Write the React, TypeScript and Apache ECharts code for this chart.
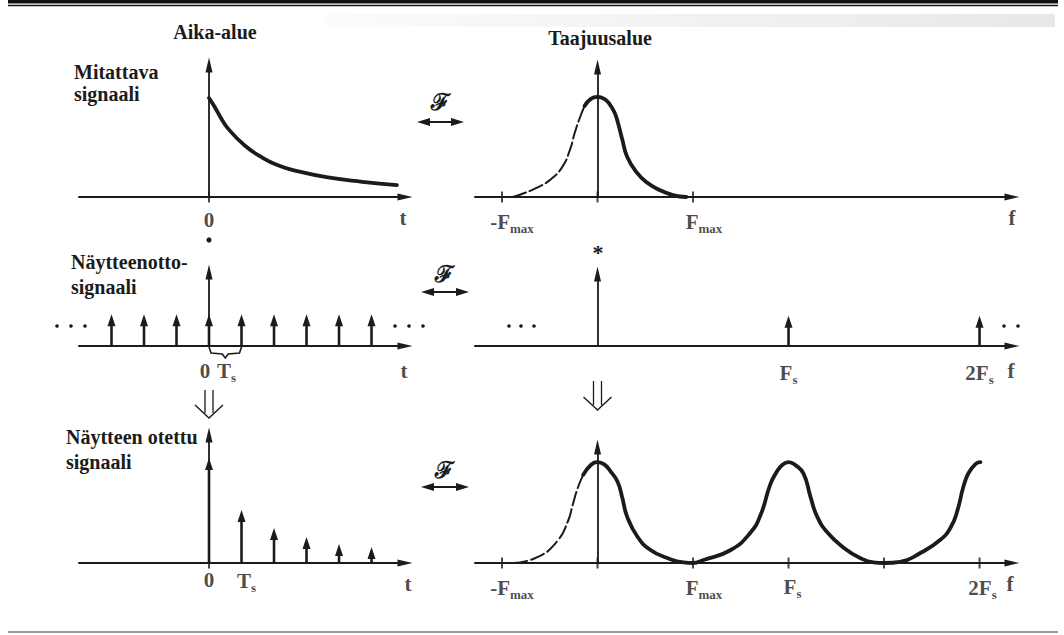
import React, { useEffect, useRef } from 'react';
import * as echarts from 'echarts';

const INK = '#1b1b1b';
const SERIF = 'Liberation Serif';

// ---------------- data ----------------
// time unit = T_s ; frequency unit = F_max (so F_s = 2)
const decayT = [0, 0.18, 0.34, 0.58, 1.1, 1.63, 2.12, 2.65, 3.66, 4.71, 5.78];
const decayA = [0.75, 0.68, 0.61, 0.52, 0.39, 0.3, 0.24, 0.2, 0.148, 0.115, 0.09];

const specF = [-0.89, -0.82, -0.64, -0.5, -0.37, -0.29, -0.24, -0.19, -0.136, -0.07, 0, 0.07, 0.126, 0.178, 0.21, 0.26, 0.31, 0.41, 0.51, 0.65, 0.79, 0.93];
const specA = [0, 0.015, 0.07, 0.13, 0.23, 0.36, 0.49, 0.6, 0.7, 0.755, 0.77, 0.755, 0.715, 0.65, 0.58, 0.44, 0.31, 0.19, 0.115, 0.054, 0.015, 0];

const combT = [-3, -2, -1, 0, 1, 2, 3, 4, 5];
const combA = [0.43, 0.43, 0.43, 0.43, 0.43, 0.43, 0.43, 0.43, 0.43];
const combF = [2, 4];
const combFA = [0.42, 0.42];

const sampT = [0, 1, 2, 3, 4, 5];
const sampA = [0.82, 0.414, 0.273, 0.203, 0.148, 0.125];

const aliasF = [-0.88, -0.63, -0.42, -0.31, -0.26, -0.21, -0.15, -0.07, 0, 0.07, 0.136, 0.21, 0.26, 0.31, 0.42, 0.555, 0.73, 0.9, 1.0, 1.11, 1.39, 1.6, 1.71, 1.81, 1.88, 1.94, 2.0, 2.07, 2.157, 2.23, 2.3, 2.41, 2.58, 2.75, 2.89, 3.0, 3.17, 3.38, 3.59, 3.7, 3.77, 3.83, 3.885, 3.96, 4.01];
const aliasA = [0, 0.05, 0.19, 0.36, 0.5, 0.64, 0.76, 0.845, 0.87, 0.85, 0.79, 0.7, 0.56, 0.4, 0.224, 0.112, 0.043, 0.005, 0, 0.026, 0.11, 0.26, 0.42, 0.68, 0.79, 0.85, 0.87, 0.845, 0.77, 0.57, 0.4, 0.26, 0.13, 0.043, 0.005, 0, 0.01, 0.086, 0.2, 0.31, 0.457, 0.655, 0.776, 0.855, 0.87];

const braceSpan = [0, 1];

const T_MIN = -4, T_MAX = 6.03;
const F_MIN = -1.283, F_MAX = 4.34;

// tick labels ("_" marks a subscript)
const r1TimeTicks = [0, T_MAX];
const r1TimeLabels = ['0', 't'];
const r1FreqTicks = [-1, 1, F_MAX];
const r1FreqLabels = ['-F_max', 'F_max', 'f'];
const r2TimeTicks = [0, 1, T_MAX];
const r2TimeLabels = ['0', 'T_s', 't'];
const r2FreqTicks = [2, 4, F_MAX];
const r2FreqLabels = ['F_s', '2F_s', 'f'];
const r3TimeTicks = [0, 1, T_MAX];
const r3TimeLabels = ['0', 'T_s', 't'];
const r3FreqTicks = [-1, 1, 2, 4, F_MAX];
const r3FreqLabels = ['-F_max', 'F_max', 'F_s', '2F_s', 'f'];

// small tick marks crossing the axes
const r1TimeMarks = [0];
const r1FreqMarks = [-1, 0, 1];
const r3TimeMarks = [0];
const r3FreqMarks = [-1, 0, 1, 2, 3, 4];

// ---------------- layout / style ----------------
const LEFT_X = 79, LEFT_W = 326, RIGHT_X = 475, RIGHT_W = 537;
const GRIDS = [
  { left: LEFT_X, top: 65, width: LEFT_W, height: 132 },
  { left: RIGHT_X, top: 67, width: RIGHT_W, height: 130 },
  { left: LEFT_X, top: 272, width: LEFT_W, height: 74 },
  { left: RIGHT_X, top: 274, width: RIGHT_W, height: 72 },
  { left: LEFT_X, top: 435, width: LEFT_W, height: 128 },
  { left: RIGHT_X, top: 447, width: RIGHT_W, height: 116 },
];
const OFFS = [
  [[0, 9], [-2, 7]],
  [[10, 11], [11, 11], [0, 7]],
  [[-4, 11], [-15, 11], [-1, 11]],
  [[0, 13], [0, 13], [-1, 11]],
  [[0, 3], [5, 4], [3, 7]],
  [[10, 11], [11, 11], [4, 10], [3, 11], [-2, 7]],
];

const RICH = {
  m: { fontFamily: SERIF, fontWeight: 'bold', fontSize: 21, lineHeight: 26, color: INK },
  s: { fontFamily: SERIF, fontWeight: 'bold', fontSize: 13, lineHeight: 12, verticalAlign: 'bottom', color: INK },
};
const fmt = (t: string) => {
  const p = t.split('_');
  return p.length > 1 ? `{m|${p[0]}}{s|${p[1]}}` : `{m|${t}}`;
};

const labelSeries = (idx: number, vals: number[], texts: string[]) => ({
  type: 'scatter', xAxisIndex: idx, yAxisIndex: idx, symbolSize: 1, silent: true, clip: false, z: 5,
  itemStyle: { color: 'rgba(0,0,0,0)' },
  label: { show: true, position: 'bottom', distance: 0, fontFamily: SERIF, fontWeight: 'bold', rich: RICH },
  data: vals.map((v, k) => ({ value: [v, 0], label: { show: true, formatter: fmt(texts[k]), offset: OFFS[idx][k] } })),
});
const tickSeries = (idx: number, vals: number[]) => ({
  type: 'scatter', xAxisIndex: idx, yAxisIndex: idx, symbol: 'rect', symbolSize: [2, 11], silent: true, clip: false,
  itemStyle: { color: INK }, data: vals.map((v) => [v, 0]),
});
const lineSeries = (idx: number, xs: number[], ys: number[], dashed: boolean) => ({
  type: 'line', xAxisIndex: idx, yAxisIndex: idx, silent: true, clip: false,
  data: xs.map((x, i) => [x, ys[i]]), showSymbol: false, symbol: 'none', smooth: 0.5,
  lineStyle: { color: INK, width: dashed ? 2 : 3.8, type: dashed ? [14, 4] : 'solid', cap: 'round', join: 'round' },
});
const arrowSeries = (idx: number, xs: number[], ys: number[]) => ({
  type: 'custom', xAxisIndex: idx, yAxisIndex: idx, silent: true, clip: false,
  data: xs.map((x, i) => [x, ys[i]]),
  renderItem: (_p: any, api: any) => {
    const b = api.coord([api.value(0), 0]);
    const t = api.coord([api.value(0), api.value(1)]);
    return {
      type: 'group',
      children: [
        { type: 'line', shape: { x1: b[0], y1: b[1], x2: t[0], y2: t[1] + 9 }, style: { stroke: INK, lineWidth: 2.6 } },
        { type: 'polygon', shape: { points: [[t[0], t[1]], [t[0] - 4, t[1] + 12], [t[0] + 4, t[1] + 12]] }, style: { fill: INK } },
      ],
    };
  },
});
const braceSeries = (idx: number) => ({
  type: 'custom', xAxisIndex: idx, yAxisIndex: idx, silent: true, clip: false,
  encode: { x: [0, 1] },
  data: [braceSpan],
  renderItem: (_p: any, api: any) => {
    const a = api.coord([api.value(0), 0]);
    const b = api.coord([api.value(1), 0]);
    const m = (a[0] + b[0]) / 2, y = a[1];
    return {
      type: 'polyline',
      shape: { points: [[a[0], y + 1], [a[0] + 2, y + 7], [m - 3, y + 8], [m, y + 12], [m + 3, y + 8], [b[0] - 2, y + 7], [b[0], y + 1]] },
      style: { stroke: INK, lineWidth: 1.6, fill: null },
    };
  },
});

const axisLine = (w: number) => ({
  show: true, onZero: true, symbol: ['none', 'triangle'], symbolSize: [7, 15],
  lineStyle: { color: INK, width: w },
});

const splitAt = (xs: number[], ys: number[], cut: number, below: boolean) => {
  const X: number[] = [], Y: number[] = [];
  xs.forEach((x, i) => { if (below ? x <= cut : x >= cut) { X.push(x); Y.push(ys[i]); } });
  return [X, Y];
};

const txt = (x: number, y: number, text: string, size = 20, align = 'left') => ({
  type: 'text', x, y, silent: true,
  style: { text, fill: INK, font: `bold ${size}px ${SERIF}`, fontFamily: SERIF, fontWeight: 'bold', fontSize: size, align, verticalAlign: 'middle', textAlign: align, textVerticalAlign: 'middle' },
});
const dblArrow = (x1: number, x2: number, y: number) => [
  { type: 'line', shape: { x1: x1 + 8, y1: y, x2: x2 - 8, y2: y }, style: { stroke: INK, lineWidth: 2 } },
  { type: 'polygon', shape: { points: [[x1, y], [x1 + 13, y - 4], [x1 + 13, y + 4]] }, style: { fill: INK } },
  { type: 'polygon', shape: { points: [[x2, y], [x2 - 13, y - 4], [x2 - 13, y + 4]] }, style: { fill: INK } },
];
const fourier = (x: number, y: number) => ({
  type: 'text', x, y, silent: true,
  style: { text: '\u2131', fill: INK, font: 'bold 23px DejaVu Serif', fontFamily: 'DejaVu Serif', fontWeight: 'bold', fontSize: 23, align: 'center', verticalAlign: 'middle', textAlign: 'center', textVerticalAlign: 'middle' },
});
const downArrow = (x: number, top: number, bottom: number) => [
  { type: 'line', shape: { x1: x - 4, y1: top, x2: x - 4, y2: bottom - 5 }, style: { stroke: INK, lineWidth: 1.3 } },
  { type: 'line', shape: { x1: x + 4, y1: top, x2: x + 4, y2: bottom - 5 }, style: { stroke: INK, lineWidth: 1.3 } },
  { type: 'polyline', shape: { points: [[x - 14, bottom - 13], [x, bottom], [x + 14, bottom - 13]] }, style: { stroke: INK, lineWidth: 1.4, fill: null } },
];
const dot = (x: number, y: number, r = 1.8) => ({ type: 'circle', silent: true, shape: { cx: x, cy: y, r }, style: { fill: INK } });

function buildOption() {
  const [sdX, sdY] = splitAt(specF, specA, -0.136, true);
  const [ssX, ssY] = splitAt(specF, specA, -0.136, false);
  const [adX, adY] = splitAt(aliasF, aliasA, -0.15, true);
  const [asX, asY] = splitAt(aliasF, aliasA, -0.15, false);

  const graphic: any[] = [
    { type: 'rect', silent: true, shape: { x: 8, y: 0, width: 1050, height: 3.5 }, style: { fill: '#111' } },
    { type: 'rect', silent: true, shape: { x: 8, y: 4.8, width: 1050, height: 1.5 }, style: { fill: '#111' } },
    {
      type: 'rect', silent: true, shape: { x: 325, y: 14, width: 730, height: 13 },
      style: { fill: new echarts.graphic.LinearGradient(0, 0, 1, 0, [{ offset: 0, color: 'rgba(140,140,140,0.03)' }, { offset: 1, color: 'rgba(140,140,140,0.2)' }]) },
    },
    { type: 'rect', silent: true, shape: { x: 8, y: 631, width: 1050, height: 2 }, style: { fill: '#9c9c9c' } },
    txt(215, 32, 'Aika-alue', 20, 'center'),
    txt(600, 38, 'Taajuusalue', 20, 'center'),
    txt(74, 72, 'Mitattava'),
    txt(74, 94, 'signaali'),
    txt(71, 262, 'Näytteenotto-'),
    txt(71, 287, 'signaali'),
    txt(66, 437, 'Näytteen otettu'),
    txt(66, 462, 'signaali'),
    fourier(440, 101), ...dblArrow(417, 464, 122),
    fourier(444, 273), ...dblArrow(421, 469, 292),
    fourier(444, 469), ...dblArrow(421, 469, 487),
    ...downArrow(209, 390, 418),
    ...downArrow(597.5, 381, 410),
    dot(209, 240, 2.6),
    txt(598, 252, '*', 22, 'center'),
    dot(57, 326), dot(71, 326), dot(85, 326),
    dot(395, 326), dot(409, 326), dot(423, 326),
    dot(509, 326), dot(521, 326), dot(534, 326),
    dot(1004, 326), dot(1018, 326),
  ];

  const isLeft = (i: number) => i % 2 === 0;
  return {
    animation: false,
    backgroundColor: '#ffffff',
    textStyle: { fontFamily: SERIF },
    grid: GRIDS.map((g) => ({ ...g, containLabel: false, outerBoundsMode: 'none' })),
    xAxis: GRIDS.map((_, i) => ({
      type: 'value', gridIndex: i, min: isLeft(i) ? T_MIN : F_MIN, max: isLeft(i) ? T_MAX : F_MAX,
      axisLine: axisLine(2), axisTick: { show: false }, axisLabel: { show: false }, splitLine: { show: false },
    })),
    yAxis: GRIDS.map((_, i) => ({
      type: 'value', gridIndex: i, min: 0, max: 1,
      axisLine: axisLine(1.8), axisTick: { show: false }, axisLabel: { show: false }, splitLine: { show: false },
    })),
    series: [
      lineSeries(0, decayT, decayA, false),
      lineSeries(1, sdX, sdY, true),
      lineSeries(1, ssX, ssY, false),
      arrowSeries(2, combT, combA),
      braceSeries(2),
      arrowSeries(3, combF, combFA),
      arrowSeries(4, sampT, sampA),
      lineSeries(5, adX, adY, true),
      lineSeries(5, asX, asY, false),
      tickSeries(0, r1TimeMarks),
      tickSeries(1, r1FreqMarks),
      tickSeries(4, r3TimeMarks),
      tickSeries(5, r3FreqMarks),
      labelSeries(0, r1TimeTicks, r1TimeLabels),
      labelSeries(1, r1FreqTicks, r1FreqLabels),
      labelSeries(2, r2TimeTicks, r2TimeLabels),
      labelSeries(3, r2FreqTicks, r2FreqLabels),
      labelSeries(4, r3TimeTicks, r3TimeLabels),
      labelSeries(5, r3FreqTicks, r3FreqLabels),
    ],
    graphic,
  };
}

export default function App() {
  const ref = useRef<HTMLDivElement>(null);
  useEffect(() => {
    if (!ref.current) return;
    const chart = echarts.init(ref.current, null, { renderer: 'svg' });
    chart.setOption(buildOption() as any);
    return () => chart.dispose();
  }, []);
  return (
    <div
      ref={ref}
      style={{ position: 'fixed', left: 0, top: 0, width: 1064, height: 635, background: '#ffffff' }}
    />
  );
}
